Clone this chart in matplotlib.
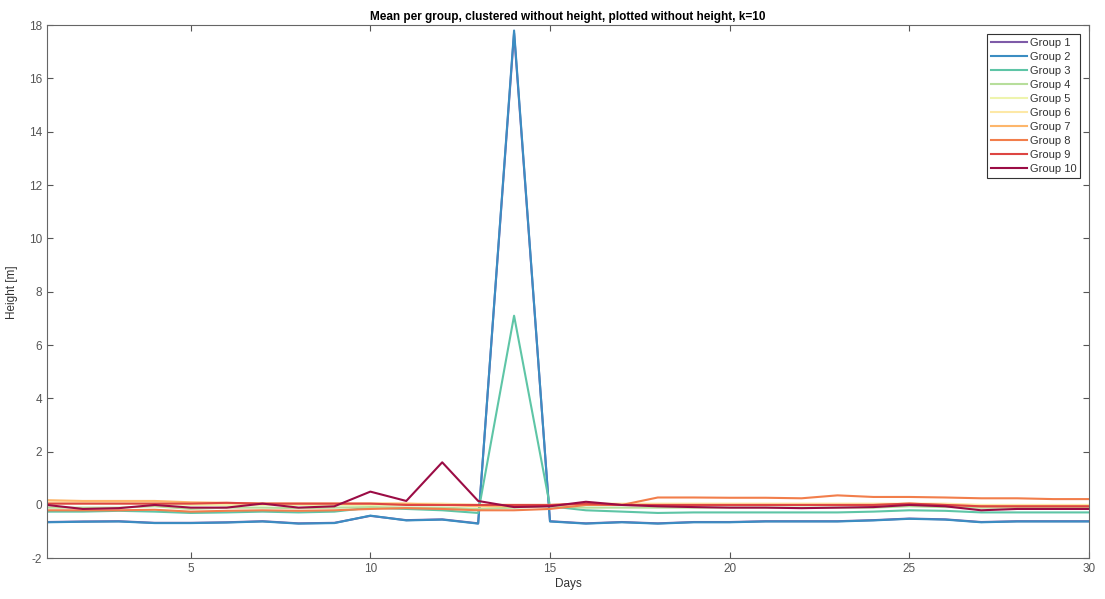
import matplotlib.pyplot as plt

plt.rcParams['font.family'] = ['Liberation Sans', 'DejaVu Sans']
plt.rcParams['axes.unicode_minus'] = False

days = list(range(1, 31))

# mean height per group
group1 = [-0.64, -0.62, -0.61, -0.67, -0.67, -0.65, -0.61, -0.69, -0.67, -0.41, -0.57, -0.54, -0.69, 17.7, -0.61,
          -0.69, -0.64, -0.69, -0.64, -0.64, -0.61, -0.61, -0.61, -0.57, -0.51, -0.54, -0.64, -0.61, -0.61, -0.61]
group2 = [-0.65, -0.63, -0.62, -0.68, -0.68, -0.66, -0.62, -0.70, -0.68, -0.40, -0.58, -0.55, -0.70, 17.8, -0.62,
          -0.70, -0.65, -0.70, -0.65, -0.65, -0.62, -0.62, -0.62, -0.58, -0.52, -0.55, -0.65, -0.62, -0.62, -0.62]
group3 = [-0.25, -0.25, -0.22, -0.25, -0.30, -0.28, -0.25, -0.28, -0.25, -0.10, -0.15, -0.20, -0.30, 7.1, -0.05,
          -0.20, -0.25, -0.30, -0.28, -0.28, -0.28, -0.28, -0.28, -0.25, -0.20, -0.22, -0.28, -0.28, -0.28, -0.28]
group4 = [-0.10, -0.10, -0.10, -0.05, -0.15, -0.10, -0.10, -0.12, -0.10, -0.08, -0.10, -0.10, -0.15, -0.10, -0.05,
          -0.10, -0.10, -0.10, -0.10, -0.10, -0.10, -0.10, -0.10, -0.10, -0.05, -0.08, -0.10, -0.10, -0.10, -0.10]
group5 = [0.05, 0.05, 0.05, 0.05, 0.0, 0.0, 0.0, 0.0, 0.0, 0.0, 0.0, 0.0, 0.0, 0.0, 0.0,
          0.05, 0.0, 0.0, 0.0, 0.0, 0.0, 0.0, 0.0, 0.0, 0.05, 0.0, 0.0, 0.0, 0.0, 0.0]
group6 = [0.10, 0.10, 0.10, 0.10, 0.05, 0.05, 0.05, 0.05, 0.05, 0.05, 0.05, 0.05, 0.0, 0.0, 0.0,
          0.05, 0.05, 0.05, 0.05, 0.05, 0.05, 0.05, 0.05, 0.05, 0.05, 0.05, 0.0, 0.0, 0.0, 0.0]
group7 = [0.18, 0.15, 0.15, 0.15, 0.10, 0.08, 0.05, 0.05, 0.05, 0.05, 0.05, 0.0, -0.05, -0.05, -0.02,
          0.05, 0.0, 0.0, 0.0, 0.0, 0.0, 0.0, 0.0, 0.0, 0.05, 0.0, -0.05, -0.05, -0.05, -0.05]
group8 = [-0.20, -0.20, -0.20, -0.18, -0.25, -0.22, -0.20, -0.22, -0.20, -0.15, -0.12, -0.15, -0.20, -0.20, -0.15,
          0.0, 0.0, 0.28, 0.28, 0.27, 0.27, 0.25, 0.36, 0.30, 0.30, 0.28, 0.25, 0.25, 0.22, 0.22]
group9 = [0.05, 0.05, 0.05, 0.05, 0.05, 0.08, 0.05, 0.05, 0.05, 0.05, 0.0, 0.0, 0.0, 0.0, 0.0,
          0.05, 0.0, 0.0, 0.0, 0.0, 0.0, 0.0, 0.0, 0.0, 0.05, 0.0, -0.05, -0.05, -0.05, -0.05]
group10 = [0.0, -0.15, -0.12, 0.0, -0.10, -0.10, 0.05, -0.10, -0.05, 0.50, 0.15, 1.60, 0.15, -0.08, -0.05,
           0.12, 0.0, -0.05, -0.08, -0.10, -0.10, -0.12, -0.10, -0.08, 0.0, -0.05, -0.20, -0.15, -0.15, -0.15]

groups = [group1, group2, group3, group4, group5, group6, group7, group8, group9, group10]
labels = ["Group %d" % (i + 1) for i in range(10)]
colors = ["#7e5ba8", "#3b8dc2", "#5ec5a6", "#b7de9b", "#eef4ad", "#fde8a6",
          "#fdb66b", "#f27e4b", "#dd4542", "#9b0c45"]

fig = plt.figure(figsize=(11.05, 5.99), dpi=100)
ax = fig.add_axes([0.0425, 0.068, 0.943, 0.89])

for vals, lab, col in zip(groups, labels, colors):
    ax.plot(days, vals, color=col, linewidth=1.5, label=lab)

ax.set_xlim(1, 30)
ax.set_ylim(-2, 18)
ax.set_xticks([5, 10, 15, 20, 25, 30])
ax.set_yticks(range(-2, 19, 2))
ax.tick_params(direction="in", top=True, right=True, labelsize=8.5, colors="#555555", length=4)
for s in ax.spines.values():
    s.set_color("#666666")
    s.set_linewidth(0.8)

ax.set_xlabel("Days", fontsize=8.5, color="#333333", labelpad=2)
ax.set_ylabel("Height [m]", fontsize=8.5, color="#333333", labelpad=8)
ax.set_title("Mean per group, clustered without height, plotted without height, k=10",
             fontsize=8.5, fontweight="bold", pad=4)

leg = ax.legend(loc="upper right", fontsize=8, fancybox=False, framealpha=1,
                handlelength=3.3, handletextpad=0.2, labelspacing=0.36,
                borderaxespad=0.8, borderpad=0.35)
leg.get_frame().set_edgecolor("#333333")
leg.get_frame().set_linewidth(0.8)
for t in leg.get_texts():
    t.set_color("#333333")

fig.savefig("out.png", dpi=100)
